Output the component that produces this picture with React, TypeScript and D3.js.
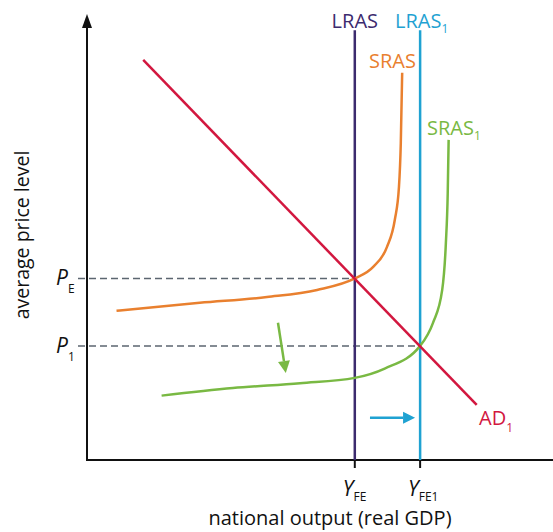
import React from 'react'
import * as d3 from 'd3'

const W = 553
const H = 532

// curves in chart units (output 0..100, price 0..100)
const srasPoints: [number, number][] = [
    [6.2, 33.6], [24.3, 35.4], [38.9, 36.7], [49.8, 38.3], [58.0, 40.9], [62.0, 43.5],
    [65.0, 48.0], [66.7, 54.1], [67.6, 61.5], [68.0, 71.4], [68.3, 87.2],
]
const sras1Points: [number, number][] = [
    [16.0, 14.5], [31.5, 16.2], [46.1, 17.3], [58.0, 18.5], [64.5, 20.6], [72.2, 25.7],
    [75.0, 30.9], [77.0, 38.3], [77.8, 48.9], [78.2, 60.1], [78.4, 72.1],
]
const adPoints: [number, number][] = [[12.0, 90.1], [84.5, 12.4]]
const lrasX = 58.0
const lras1X = 72.2
const lrasTop = 96.8
const priceLevels = [
    { label: 'P', sub: 'E', value: 40.9, xEnd: lrasX },
    { label: 'P', sub: '1', value: 25.7, xEnd: lras1X },
]
const outputLevels = [
    { label: 'Y', sub: 'FE', value: lrasX },
    { label: 'Y', sub: 'FE1', value: lras1X },
]
const shiftDown: [number, number][] = [[41.3, 30.9], [43.0, 19.6]]
const shiftRight: [number, number][] = [[61.3, 9.5], [71.1, 9.5]]

const PURPLE = '#3c2b6e'
const BLUE = '#1fa2d2'
const ORANGE = '#e9802f'
const GREEN = '#79b943'
const RED = '#d2173f'
const GREY = '#5c6670'
const FONT = '"Open Sans", "Noto Sans", sans-serif'

export default function App() {
    const x = d3.scaleLinear().domain([0, 100]).range([88, 548])
    const y = d3.scaleLinear().domain([0, 100]).range([460, 16])

    const curve = d3.line<[number, number]>()
        .x(d => x(d[0]))
        .y(d => y(d[1]))
        .curve(d3.curveMonotoneX)
    const straight = d3.line<[number, number]>().x(d => x(d[0])).y(d => y(d[1]))

    const arrow = (pts: [number, number][], color: string, key: string) => {
        const [a, b] = pts
        const x1 = x(a[0]), y1 = y(a[1]), x2 = x(b[0]), y2 = y(b[1])
        const ang = Math.atan2(y2 - y1, x2 - x1)
        const len = 12, half = 6
        const bx = x2 - len * Math.cos(ang), by = y2 - len * Math.sin(ang)
        const head = `M${x2},${y2}L${bx + half * Math.sin(ang)},${by - half * Math.cos(ang)}L${bx - half * Math.sin(ang)},${by + half * Math.cos(ang)}Z`
        return (
            <g key={key}>
                <line x1={x1} y1={y1} x2={bx} y2={by} stroke={color} strokeWidth={2.5} />
                <path d={head} fill={color} />
            </g>
        )
    }

    return (
        <svg width={W} height={H} style={{ position: 'absolute', left: 0, top: 0, fontFamily: FONT }}>
            <rect width={W} height={H} fill="#fff" />

            {/* dashed guides */}
            {priceLevels.map(p => (
                <line key={p.sub} x1={78} x2={x(p.xEnd)} y1={y(p.value)} y2={y(p.value)}
                    stroke={GREY} strokeWidth={1.5} strokeDasharray="7,4" />
            ))}

            {/* axes */}
            <line x1={87} y1={y(0)} x2={87} y2={26} stroke="#111" strokeWidth={2} />
            <path d="M87,14L82,28L92,28Z" fill="#111" />
            <line x1={86} y1={y(0)} x2={W} y2={y(0)} stroke="#111" strokeWidth={2} />
            {outputLevels.map(o => (
                <line key={o.sub} x1={x(o.value)} x2={x(o.value)} y1={y(0)} y2={y(0) + 8}
                    stroke="#111" strokeWidth={2} />
            ))}

            {/* LRAS lines */}
            <line x1={x(lrasX)} x2={x(lrasX)} y1={y(lrasTop)} y2={y(0)} stroke={PURPLE} strokeWidth={2.5} />
            <line x1={x(lras1X)} x2={x(lras1X)} y1={y(lrasTop)} y2={y(0)} stroke={BLUE} strokeWidth={2.5} />

            {/* curves */}
            <path d={curve(srasPoints) ?? ''} fill="none" stroke={ORANGE} strokeWidth={2.5} />
            <path d={curve(sras1Points) ?? ''} fill="none" stroke={GREEN} strokeWidth={2.5} />
            <path d={straight(adPoints) ?? ''} fill="none" stroke={RED} strokeWidth={2.5} />

            {arrow(shiftDown, GREEN, 'down')}
            {arrow(shiftRight, BLUE, 'right')}

            {/* curve labels */}
            <text x={x(lrasX)} y={28} fontSize={20} fill={PURPLE} textAnchor="middle">LRAS</text>
            <text x={395} y={28} fontSize={20} fill={BLUE}>LRAS<tspan fontSize={12} dy={5}>1</tspan></text>
            <text x={369} y={68} fontSize={20} fill={ORANGE}>SRAS</text>
            <text x={427} y={135} fontSize={20} fill={GREEN}>SRAS<tspan fontSize={12} dy={5}>1</tspan></text>
            <text x={479} y={425} fontSize={20} fill={RED}>AD<tspan fontSize={12} dy={7}>1</tspan></text>

            {/* axis value labels */}
            {priceLevels.map(p => (
                <text key={p.sub} x={56} y={y(p.value) + 7} fontSize={21} fill="#111">
                    <tspan fontStyle="italic">{p.label}</tspan>
                    <tspan fontSize={12} dy={8}>{p.sub}</tspan>
                </text>
            ))}
            {outputLevels.map(o => (
                <text key={o.sub} x={x(o.value) - 12} y={496} fontSize={21} fill="#111">
                    <tspan fontStyle="italic">{o.label}</tspan>
                    <tspan fontSize={12} dy={5}>{o.sub}</tspan>
                </text>
            ))}

            {/* axis titles */}
            <text x={330} y={525} fontSize={20} fill="#111" textAnchor="middle">national output (real GDP)</text>
            <text transform="translate(29,235) rotate(-90)" fontSize={19.5} fill="#111" textAnchor="middle">average price level</text>
        </svg>
    )
}
